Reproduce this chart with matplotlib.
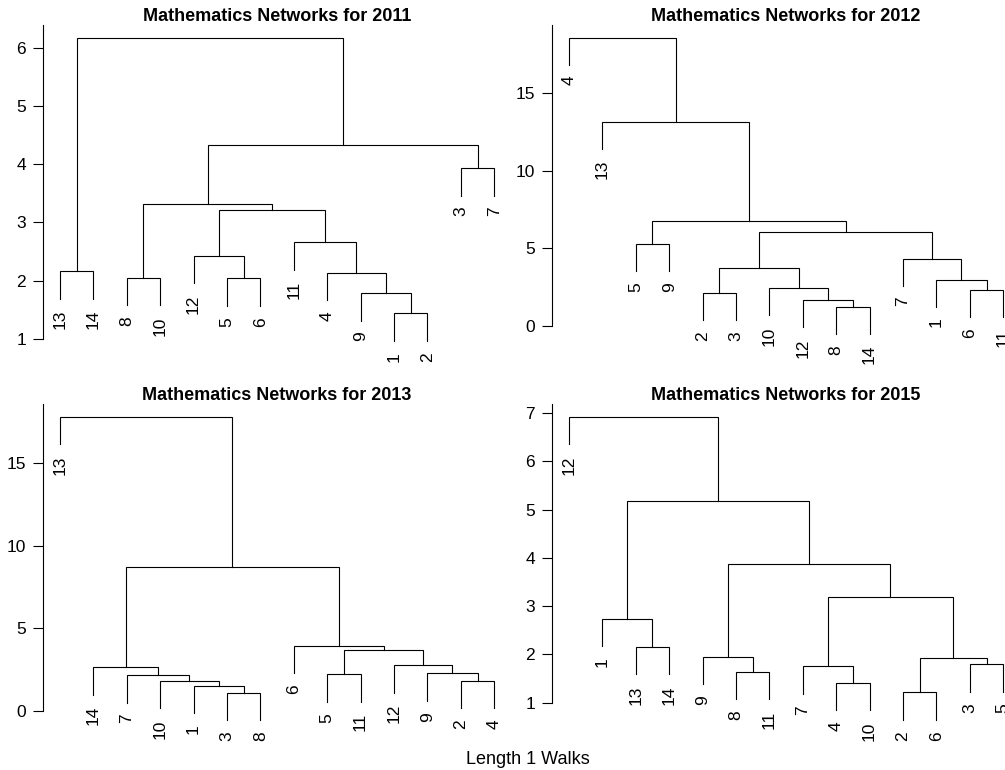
import matplotlib.pyplot as plt

plt.rcParams['font.family'] = ['Liberation Sans', 'DejaVu Sans']

# hclust-style merge steps: negative = leaf label, positive = earlier step (1-based)
merge_2011 = [(-1, -2), (-9, 1), (-5, -6), (-8, -10), (-4, 2), (-13, -14), (-12, 3),
              (-11, 5), (7, 8), (4, 9), (-3, -7), (10, 11), (6, 12)]
height_2011 = [1.44, 1.79, 2.04, 2.05, 2.14, 2.16, 2.43, 2.66, 3.21, 3.32, 3.93, 4.32, 6.17]

merge_2012 = [(-8, -14), (-12, 1), (-2, -3), (-6, -11), (-10, 2), (-1, 4), (3, 5),
              (-7, 6), (-5, -9), (7, 8), (9, 10), (-13, 11), (-4, 12)]
height_2012 = [1.21, 1.64, 2.11, 2.28, 2.41, 2.97, 3.70, 4.32, 5.27, 6.02, 6.73, 13.15, 18.57]

merge_2013 = [(-3, -8), (-1, 1), (-10, 2), (-2, -4), (-7, 3), (-5, -11), (-9, 4),
              (-14, 5), (-12, 7), (6, 9), (-6, 10), (8, 11), (-13, 12)]
height_2013 = [1.11, 1.53, 1.84, 1.84, 2.18, 2.22, 2.30, 2.66, 2.77, 3.69, 3.96, 8.74, 17.83]

merge_2015 = [(-2, -6), (-4, -10), (-8, -11), (-7, 2), (-3, -5), (1, 5), (-9, 3),
              (-13, -14), (-1, 8), (4, 6), (7, 10), (9, 11), (-12, 12)]
height_2015 = [1.21, 1.41, 1.64, 1.75, 1.79, 1.93, 1.95, 2.16, 2.74, 3.19, 3.88, 5.18, 6.93]

years = [2011, 2012, 2013, 2015]
merges = [merge_2011, merge_2012, merge_2013, merge_2015]
heights = [height_2011, height_2012, height_2013, height_2015]
yticks = [[1, 2, 3, 4, 5, 6], [0, 5, 10, 15], [0, 5, 10, 15], [1, 2, 3, 4, 5, 6, 7]]
ylims = [(0.76, 6.386), (-1.76, 19.39), (-1.27, 18.59), (0.39, 7.19)]

W, H = 1005, 770
# plot regions in pixels: left, top, width, height
boxes = [(42.6, 25, 469, 328), (551.6, 25, 469, 328),
         (42.6, 404, 469, 328), (551.6, 404, 469, 328)]


def leaf_order(merge, k):
    out = []
    for c in merge[k - 1]:
        out += [-c] if c < 0 else leaf_order(merge, c)
    return out


def draw_tree(ax, merge, height):
    order = leaf_order(merge, len(merge))
    xpos = {lab: i + 1 for i, lab in enumerate(order)}
    hang = 0.1 * (max(height) - min(height))
    node_x = {}
    for k, (a, b) in enumerate(merge, start=1):
        h = height[k - 1]
        pts = []
        for c in (a, b):
            if c < 0:
                x, y = xpos[-c], h - hang
                ax.annotate(str(-c), (x, y), xytext=(0, -8), textcoords='offset points',
                            rotation=90, rotation_mode='anchor', ha='right', va='center',
                            fontsize=12.5)
            else:
                x, y = node_x[c], height[c - 1]
            pts.append((x, y))
        (xa, ya), (xb, yb) = pts
        ax.plot([xa, xa, xb, xb], [ya, h, h, yb], color='black', lw=0.8,
                solid_joinstyle='miter')
        node_x[k] = (xa + xb) / 2


fig = plt.figure(figsize=(W / 100, H / 100), dpi=100)

for i, year in enumerate(years):
    l, t, w, h = boxes[i]
    ax = fig.add_axes([l / W, 1 - (t + h) / H, w / W, h / H])
    draw_tree(ax, merges[i], heights[i])
    ax.set_xlim(0.48, 14.52)
    ax.set_ylim(*ylims[i])
    ax.set_xticks([])
    ax.set_yticks(yticks[i])
    for side in ['top', 'right', 'bottom']:
        ax.spines[side].set_visible(False)
    ax.spines['left'].set_bounds(yticks[i][0], ylims[i][1])
    ax.spines['left'].set_linewidth(0.8)
    ax.tick_params(axis='y', direction='out', length=6.9, width=0.8, pad=5, labelsize=12.5)
    ax.patch.set_visible(False)
    ax.set_title(f'Mathematics Networks for {year}', fontsize=13, fontweight='bold', pad=3)

fig.text(527.5 / W, 1 - 764 / H, 'Length 1 Walks', ha='center', va='baseline', fontsize=13)

fig.savefig('out.png', dpi=100)
